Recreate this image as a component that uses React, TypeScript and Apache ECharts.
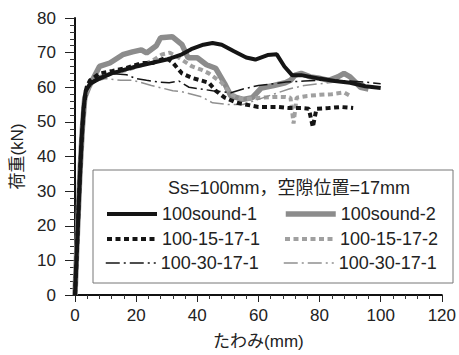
import React, { useEffect, useRef } from "react";
import * as echarts from "echarts";

const FONT = "'Liberation Sans', 'Noto Sans CJK JP', sans-serif";

const seriesNames = ["100sound-1", "100sound-2", "100-15-17-1", "100-15-17-2", "100-30-17-1", "100-30-17-1 "];
const legendTitle = "Ss=100mm，空隙位置=17mm";
const xAxisName = "たわみ(mm)";
const yAxisName = "荷重(kN)";

const sound1: number[][] = [
  [0, 0], [0.7, 15], [1.4, 30], [2.1, 44], [2.8, 54], [3.5, 59], [5, 61], [8, 62.5], [12, 64], [16, 65],
  [20, 66], [25, 67], [30, 68], [35, 69.5], [38, 71], [42, 72.3], [45, 72.8], [48, 72.3], [52, 70.4],
  [56, 68.6], [59, 68], [63, 69.3], [66, 69.5], [68.5, 66], [71, 63.5], [74, 63.5], [77, 63], [80, 62.5],
  [85, 61.8], [90, 61.3], [95, 60.3], [100, 59.8],
];
const sound2: number[][] = [
  [0, 0], [0.8, 18], [1.6, 35], [2.4, 48], [3.2, 57], [4.5, 60], [8, 66], [11.4, 67], [15.6, 69.4],
  [18.8, 70.2], [21.7, 70.8], [23.4, 69.9], [26.6, 72], [28, 74.3], [31.8, 74.6], [35, 72.3], [37, 68.5],
  [40, 68.5], [43, 66.5], [46, 65.5], [49, 61], [51, 57.5], [55, 56.5], [58, 57], [61, 59.8], [65, 60.5],
  [68.8, 61.3], [70.5, 62], [72, 63.5], [74, 64], [77, 63], [79.5, 62.7], [83, 62], [86, 63], [88, 64],
  [90, 63], [93.4, 60], [96, 59.5],
];
const dotted1: number[][] = [
  [0, 0], [0.6, 12], [1.2, 26], [1.8, 38], [2.4, 48], [3, 55], [3.8, 60], [4.9, 62], [8.1, 64], [12.3, 64.7],
  [16.9, 65.6], [22, 67], [25.3, 67], [29.8, 68.5], [31.8, 67.3], [35, 64], [38.3, 62.7], [43.8, 61.3],
  [46, 59], [49, 57], [53, 55.5], [60, 54.3], [66.5, 54.3], [70, 54], [74, 54], [76.5, 53.8], [77.8, 48.5],
  [79, 53.8], [83, 54], [87, 54.3], [91, 54],
];
const dotted2: number[][] = [
  [0, 0], [0.7, 14], [1.4, 29], [2.1, 42], [2.8, 52], [3.5, 58], [5, 61], [8, 63], [12, 64], [17, 65],
  [22, 66.5], [25, 67.5], [28.5, 69.5], [31, 70], [34, 68.5], [38.3, 66], [41.5, 65], [43.8, 64], [48, 61.3],
  [51, 58], [55, 56.5], [61, 57], [65, 57.2], [68.8, 57.2], [70.5, 57], [71.5, 49.5], [72.5, 57], [76, 57.5],
  [80, 57.8], [84, 58], [88, 58.5], [90, 57.5],
];
const dashdot1: number[][] = [
  [0, 0], [0.7, 15], [1.4, 30], [2.1, 44], [2.8, 54], [3.5, 59], [5, 61.5], [8, 63], [11, 64], [16.9, 63.6],
  [20, 62.5], [23.4, 62], [27.6, 61.5], [30.8, 61.3], [34, 61.8], [37.3, 60], [41, 59.5], [45, 59],
  [51, 58.4], [55, 59.5], [60, 60.5], [65, 61], [69, 61.5], [75, 61.8], [80, 62], [85, 62], [90, 61.8],
  [95, 61.5], [100, 61],
];
const dashdot2: number[][] = [
  [0, 0], [0.8, 17], [1.6, 33], [2.4, 46], [3.2, 55], [4, 59], [6, 61.5], [10, 62.5], [15, 62], [19, 62],
  [25, 60.5], [32, 59], [35, 58.7], [41.5, 57.2], [45, 55.5], [50, 55], [55, 55], [60, 56.5], [65, 58],
  [70, 59.5], [75, 60.5], [80, 61], [85, 61.5], [90, 61.5], [95, 61],
];

const seriesData = [sound1, sound2, dotted1, dotted2, dashdot1, dashdot2];

const styles = [
  { color: "#151515", width: 4, type: "solid" as any },
  { color: "#8c8c8c", width: 5.5, type: "solid" as any },
  { color: "#151515", width: 4, type: [5, 3.5] as any },
  { color: "#a0a0a0", width: 4, type: [5, 3.5] as any },
  { color: "#151515", width: 1.5, type: [14, 4, 2, 4] as any },
  { color: "#909090", width: 1.5, type: [14, 4, 2, 4] as any },
];

const drawOrder = [1, 3, 5, 0, 2, 4];
const legendPos = [
  { left: 100, top: 200 },
  { left: 278, top: 200 },
  { left: 100, top: 225 },
  { left: 278, top: 225 },
  { left: 100, top: 249 },
  { left: 278, top: 249 },
];

export default function App() {
  const ref = useRef<HTMLDivElement>(null);
  useEffect(() => {
    if (!ref.current) return;
    const chart = echarts.init(ref.current, undefined, { renderer: "svg" });
    const textStyle = { fontFamily: FONT, fontSize: 17, color: "#222" };
    chart.setOption({
      animation: false,
      backgroundColor: "#fff",
      textStyle: { fontFamily: FONT },
      grid: { left: 75, right: 14, top: 18, bottom: 60, containLabel: false },
      xAxis: {
        type: "value",
        min: 0,
        max: 120,
        interval: 20,
        name: xAxisName,
        nameLocation: "middle",
        nameGap: 38,
        nameTextStyle: textStyle,
        axisLine: { lineStyle: { color: "#111", width: 2 } },
        axisTick: { length: 7, lineStyle: { color: "#222", width: 1 } },
        minorTick: { show: true, splitNumber: 5, length: 4, lineStyle: { color: "#333" } },
        splitLine: { show: false },
        axisLabel: { ...textStyle, margin: 12 },
      },
      yAxis: {
        type: "value",
        min: 0,
        max: 80,
        interval: 10,
        name: yAxisName,
        nameLocation: "middle",
        nameRotate: 90,
        nameGap: 44,
        nameTextStyle: textStyle,
        axisLine: { show: true, lineStyle: { color: "#111", width: 2 } },
        axisTick: { show: true, length: 10, lineStyle: { color: "#222", width: 1 } },
        minorTick: { show: true, splitNumber: 5, length: 5, lineStyle: { color: "#333" } },
        splitLine: { show: false },
        axisLabel: { ...textStyle, margin: 19 },
      },
      legend: seriesNames.map((n, i) => ({
        data: [n],
        left: legendPos[i].left,
        top: legendPos[i].top,
        itemWidth: 50,
        itemHeight: 14,
        selectedMode: false,
        formatter: (name: string) => name.trim(),
        itemStyle: { color: "rgba(0,0,0,0)", borderColor: "rgba(0,0,0,0)", borderWidth: 0, opacity: 0 },
        lineStyle: { width: styles[i].width },
        textStyle: { fontFamily: FONT, fontSize: 18, color: "#222" },
      })),
      graphic: [
        {
          type: "rect",
          shape: { x: 93, y: 170, width: 360, height: 113 },
          style: { fill: "#fff", stroke: "#777", lineWidth: 1 },
          z: 1,
        },
        {
          type: "text",
          x: 289,
          y: 188,
          style: {
            text: legendTitle,
            fontFamily: FONT,
            fontSize: 18,
            fill: "#222",
            align: "center",
            verticalAlign: "middle",
          },
          z: 2,
        },
      ],
      series: drawOrder.map((i) => ({
        type: "line",
        name: seriesNames[i],
        data: seriesData[i],
        symbol: "none",
        showSymbol: false,
        lineStyle: { color: styles[i].color, width: styles[i].width, type: styles[i].type },
        itemStyle: { color: styles[i].color },
        z: 3,
      })),
    });
    return () => chart.dispose();
  }, []);
  return <div ref={ref} style={{ width: 459, height: 355, position: "absolute", left: 0, top: 0 }} />;
}
